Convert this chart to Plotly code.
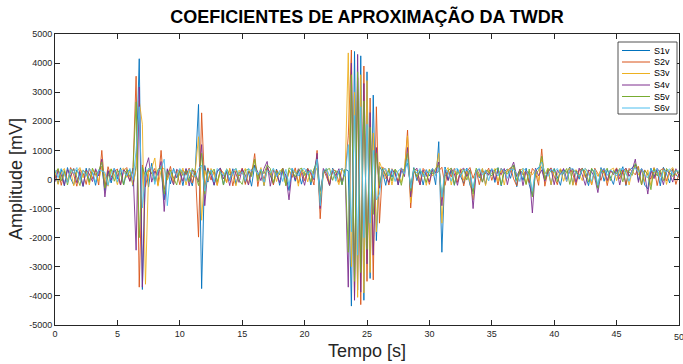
import plotly.graph_objects as go

# sample time axis (0.25 s sampling, 0..50 s)
t = [i * 0.25 for i in range(201)]

series_names = ["S1v", "S2v", "S3v", "S4v", "S5v", "S6v"]

s1v = [180, -150, 360, -220, 410, 40, -190, 330, 120, -240, 390, -60, 260, -200, 310, 450, -380, 280, -120, 350,
       20, 400, -180, 260, 330, -230, 470, 4150, -3780, 420, -260, 560, -40, 300, 410, -700, 340, -150, 380, 60,
       290, -210, 350, 110, -220, 400, 2580, -3750, 480, -90, 330, -200, 260, 390, -190, 300, -30, 370, -170, 240,
       330, -120, 260, -230, 480, 60, 340, -210, 420, 100, -150, 360, -200, 290, 140, -380, 380, -60, 310, -160,
       250, 380, -190, 300, 760, -420, 220, 350, -210, 390, 30, 280, -180, 350, 300, -4350, 4400, -3800, 4250, -4150,
       3700, -3400, 2900, -2100, 450, 260, -200, 390, 80, 330, -180, 270, 360, 560, -260, 410, -40, 300, -190, 340,
       120, 380, -180, 1300, -2500, 430, -20, 310, -200, 360, 130, -140, 390, -190, -420, 320, 60, 370, -170, 280,
       340, -100, 410, -220, 270, 360, 40, 480, -250, 330, -30, 390, -170, -560, 300, 420, 430, -20, 340, -180,
       380, 60, -200, 350, 220, 430, -180, 320, 10, 390, 150, -210, 360, 240, -300, 410, -60, 340, 90, -170,
       370, 130, 440, -210, 320, 400, 520, -40, 360, -190, -320, 390, 100, 310, -220, 420, 200, -120, 370, 150,
       80]

s2v = [40, 360, -200, 280, -90, 410, 160, -230, 340, 220, -170, 390, 30, 320, -190, 1000, -280, 440, 80, 270,
       360, -190, 300, 410, -60, 330, 3550, -3700, 500, -250, 320, 190, 380, -190, 1000, -350, 60, 450, -80, 300,
       -180, 330, 170, 390, -120, 290, -1980, 2290, -320, 400, -20, 280, -200, 360, 220, -100, 380, -220, 310, 120,
       390, -170, 290, 140, 890, -240, 340, 0, 410, 230, -190, 330, 160, 380, -210, 310, 70, 400, -130, 320,
       -40, 380, 190, -190, 1000, -1350, 330, 100, -200, 360, 280, -100, 390, 150, 1500, 4450, -4000, 3500, -4300, 3900,
       -3500, 2800, -3450, 2500, -1500, 420, 330, -190, 370, 200, -60, 400, 240, 1700, -980, 320, 110, -190, 380, 250,
       -170, 370, 170, 300, 420, -200, 320, 90, 380, -100, 340, -220, 260, 410, 40, 330, -180, 310, 200, 390,
       -30, 320, -190, 390, 210, 290, 410, 20, -220, 350, 160, 300, -110, 380, 250, -200, 1050, -230, 300, 400,
       110, -180, 350, 250, -70, 400, 180, -200, 320, 380, 70, 300, -190, 390, 200, -30, 350, -210, 310, 220,
       400, 20, 320, -180, 380, 250, 160, 450, -190, 330, 180, 10, 410, -210, 310, 380, -50, 270, 350, -170,
       200]

s3v = [290, -170, 220, 380, -40, 320, -220, 260, 410, 60, 310, -190, 350, 150, -60, 450, 80, -230, 370, 180,
       -180, 310, 390, 70, 290, -200, 350, 2700, 1900, -3600, 260, 380, 740, -230, 310, 390, -20, 320, -170, 340,
       140, 390, -190, 300, 80, 350, 1470, -1400, 310, -50, 380, 170, -200, 330, 230, -110, 370, 110, -220, 320,
       190, 380, -170, 310, 650, 30, 410, -210, 320, 180, 350, -70, 270, 390, -190, 330, 140, 310, -230, 380,
       280, -80, 340, 190, 400, -600, 250, 380, -120, 320, 100, -180, 370, 210, 4350, -3000, 3000, -4050, 3600, -3900,
       3400, -3200, 1600, -1800, 600, 290, 20, 380, -190, 320, 190, -100, 390, 1500, -800, 260, 330, -40, 300, -200,
       360, 120, 290, 900, -1500, 250, 410, -190, 320, 170, 370, -30, 280, -80, -700, 330, 100, 380, -210, 310,
       200, 380, -60, 320, -190, 350, 260, 430, 110, 310, 380, -170, 290, 160, 350, -40, 700, 190, 390, -180,
       320, 170, 370, -60, 290, 390, -200, 340, 190, -40, 380, 260, -180, 320, 110, 350, 210, -90, 330, 390,
       -40, 320, 190, 380, -190, 290, 460, 150, 360, -70, 330, -210, 390, 230, 100, 340, -170, 310, 410, 140,
       290]

s4v = [-80, 300, 160, -200, 340, 100, 380, -110, 270, -230, 330, 190, -70, 370, 120, 700, -600, 310, -20, 380,
       160, -190, 340, 220, -60, 390, -2430, 3180, -3700, 380, 750, -90, 290, 140, 620, -1100, 370, 80, -180, 350,
       260, -60, 380, -220, 320, 190, -80, 1200, -900, 350, 150, -190, 300, 390, 20, 280, -210, 340, 200, -100,
       370, 150, -190, 320, 500, 250, -40, 380, 620, -230, 310, 190, -110, 380, 130, -700, 320, -20, 370, 200,
       -200, 330, 250, -10, 900, -1000, 380, 190, -180, 310, 140, 370, -60, 280, -3700, 4000, -4150, 4300, -3870, 3300,
       -2900, 2300, -2600, 1100, -300, 360, 140, -100, 330, 220, -190, 370, 100, 1100, -600, 290, 390, -180, 320, 160,
       -80, 340, 230, 600, -900, 320, -40, 380, 190, -200, 310, 390, 100, 330, -1000, 250, 360, -90, 290, 150,
       370, -20, 310, 170, 380, -180, 320, 600, 100, 350, -210, 290, 220, -1150, 390, 130, 330, -60, 280, 370,
       -180, 320, 180, 380, 10, 280, 360, -100, 390, 160, -200, 330, 260, 60, -450, 230, 380, -40, 310, 170,
       360, -190, 280, 390, 110, 320, 700, -100, 380, 190, -500, 310, 30, 380, 240, -180, 330, 190, -90, 370,
       130]

s5v = [220, 380, -50, 310, -190, 270, 360, 90, -210, 330, 200, -100, 390, 170, 290, 600, -300, 110, 360, -60,
       320, 200, -190, 350, 100, 310, 2670, -2000, 420, 120, 380, 230, -70, 350, 450, -500, 250, 320, 50, -190,
       340, 140, 310, -80, 380, 200, -210, 900, -500, 310, 190, 360, -70, 290, -190, 370, 150, 270, 380, -20,
       -170, 310, 360, 100, 700, -40, 320, 200, 500, 380, -110, 290, 170, 370, -210, 400, 310, 80, 330, 390,
       140, 290, -90, 370, 600, -800, 220, 330, 380, -30, 310, 200, -180, 360, -2500, 3600, -3500, 3700, -3200, 2700,
       -2400, 1800, -1200, 900, -200, 390, 160, 310, -50, 360, 210, -200, 330, 900, -400, 380, 90, 320, 200, -100,
       330, 190, 380, 500, -600, 100, 310, 390, -180, 270, 150, 360, -20, 320, -500, 390, 180, -90, 330, 260,
       120, 330, 390, -190, 290, 190, 370, 500, -40, 320, 220, -170, 360, -600, 180, 310, 800, -10, 380, 250,
       350, -80, 310, 200, 380, -170, 330, 250, 90, 360, 280, -90, 390, 170, -300, 320, 230, 390, -40, 310,
       200, 380, -80, 330, 260, 140, 550, 360, -180, 310, 170, -350, 370, 120, 330, -40, 380, 250, 100, 320,
       220]

s6v = [330, 60, 380, 170, -100, 360, 210, 410, -30, 320, 120, 380, 250, -90, 330, 300, 250, -200, 200, 390,
       -90, 350, 260, 130, 380, 0, 1000, 2500, -980, 240, 330, 450, -170, 310, 370, 700, -900, 230, 340, 140,
       380, 250, -60, 350, 230, 90, 370, 500, -400, 200, 330, -90, 380, 260, 130, 350, -50, 300, 370, 160,
       270, -60, 380, 290, 400, 170, 350, -90, 320, 220, 390, 100, 310, -70, 350, -200, 380, 230, 120, 340,
       380, 170, 330, 40, 700, -900, 300, 380, 130, 350, -60, 310, 380, 110, 1200, -1800, 2200, -2600, 2500, -2000,
       1900, -1500, 1000, -700, -500, 320, 380, 120, 350, -70, 300, 380, 190, 700, -300, 340, 220, 380, 90, 310,
       220, 380, 130, 400, -600, 370, 250, -60, 340, 380, 110, 310, 350, 210, -300, 300, 380, 150, 320, -50,
       370, 250, 120, 380, 290, 40, 350, 350, 210, -70, 380, 290, 140, -400, 340, 380, 600, 250, 110, 350,
       260, 380, 150, 300, -60, 350, 380, 210, 110, 320, 380, 180, -60, 350, -200, 300, 380, 140, 330, 250,
       130, 350, 380, 220, -60, 330, 400, 250, 380, 140, 60, 340, 260, 380, -40, 320, 250, 370, 170, 300,
       290]

x_ticks = [0, 5, 10, 15, 20, 25, 30, 35, 40, 45, 50]
y_ticks = [-5000, -4000, -3000, -2000, -1000, 0, 1000, 2000, 3000, 4000, 5000]
y_tick_labels = [str(v) for v in y_ticks]

colors = ["#0072BD", "#D95319", "#EDB120", "#7E2F8E", "#77AC30", "#4DBEEE"]
all_series = [s1v, s2v, s3v, s4v, s5v, s6v]

fig = go.Figure()
for name, vals, c in zip(series_names, all_series, colors):
    fig.add_trace(go.Scatter(x=t, y=vals, mode="lines", name=name,
                             line=dict(color=c, width=0.9), showlegend=False))

FONT = "Liberation Sans, Arial, sans-serif"
AX = "#262626"

L, R, T, B = 55, 679, 34, 325
def px(x): return (x - L) / (R - L)
def py(y): return (B - y) / (B - T)

# manual legend (MATLAB-style compact box)
shapes = [dict(type="rect", xref="paper", yref="paper",
               x0=px(618), x1=px(677), y0=py(42), y1=py(114),
               fillcolor="white", line=dict(color=AX, width=0.8), layer="above")]
annotations = []
for k, (name, c) in enumerate(zip(series_names, colors)):
    yc = 50.5 + k * 11.5
    shapes.append(dict(type="line", xref="paper", yref="paper",
                       x0=px(622), x1=px(650), y0=py(yc), y1=py(yc),
                       line=dict(color=c, width=1), layer="above"))
    annotations.append(dict(xref="paper", yref="paper", x=px(652), y=py(yc),
                            xanchor="left", yanchor="middle", text=name, showarrow=False,
                            font=dict(family=FONT, size=9, color="black")))

# last x tick label (partly cut at the window edge, as in the original)
annotations.append(dict(xref="x", yref="paper", x=x_ticks[-1], y=0, yshift=-5,
                        xanchor="center", yanchor="top", text=str(x_ticks[-1]),
                        showarrow=False, font=dict(family=FONT, size=9, color=AX)))
# y-axis title
annotations.append(dict(xref="paper", yref="paper", x=px(16), y=py(179),
                        xanchor="center", yanchor="middle", text="Amplitude [mV]",
                        textangle=-90, showarrow=False,
                        font=dict(family=FONT, size=18, color=AX)))

fig.update_layout(
    width=683, height=364,
    margin=dict(l=L, r=683 - R, t=T, b=364 - B),
    paper_bgcolor="white", plot_bgcolor="white",
    font=dict(family=FONT, color=AX),
    title=dict(text="<b>COEFICIENTES DE APROXIMAÇÃO DA TWDR</b>",
               x=0.5, xref="paper", xanchor="center",
               y=1 - 17 / 364, yref="container", yanchor="middle",
               font=dict(family=FONT, size=18, color="black")),
    shapes=shapes, annotations=annotations,
    showlegend=False,
)
fig.update_xaxes(range=[0, 50], tickvals=x_ticks[:-1], ticks="inside", ticklen=5,
                 tickcolor=AX, showline=True, linecolor=AX, linewidth=1,
                 mirror="allticks", showgrid=False, zeroline=False,
                 tickfont=dict(family=FONT, size=9, color=AX),
                 title=dict(text="Tempo [s]", standoff=6,
                            font=dict(family=FONT, size=18, color=AX)))
fig.update_yaxes(range=[-5000, 5000], tickvals=y_ticks, ticktext=y_tick_labels,
                 ticks="inside", ticklen=5, tickcolor=AX, showline=True,
                 linecolor=AX, linewidth=1, mirror="allticks", showgrid=False,
                 zeroline=False, tickfont=dict(family=FONT, size=9, color=AX))

fig.write_html("out.html")
